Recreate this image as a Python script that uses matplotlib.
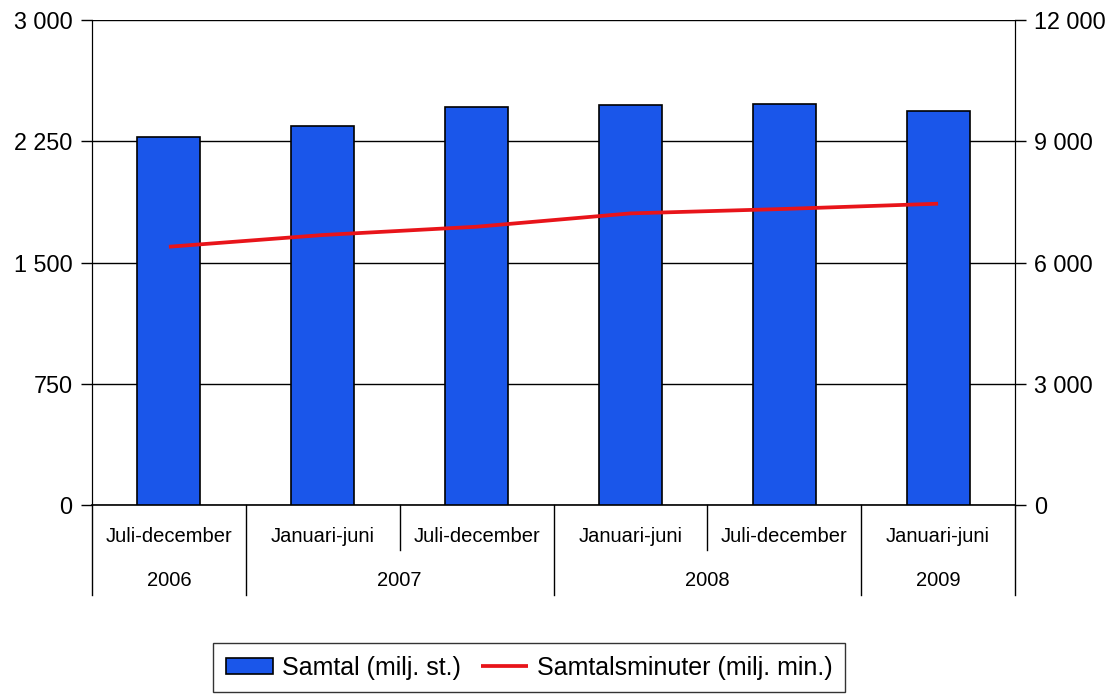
import numpy as np
import matplotlib.pyplot as plt
from matplotlib.transforms import blended_transform_factory
from matplotlib.ticker import FuncFormatter

plt.rcParams['font.family'] = ['Liberation Sans', 'DejaVu Sans']

# halvår och år
perioder = ["Juli-december", "Januari-juni", "Juli-december",
            "Januari-juni", "Juli-december", "Januari-juni"]
ar = ["2006", "2007", "2008", "2009"]
ar_antal = [1, 2, 2, 1]  # antal halvår per år

samtal = [2274, 2346, 2464, 2472, 2482, 2437]          # milj. st.
samtalsminuter = [6390, 6680, 6885, 7215, 7325, 7455]  # milj. min.

fig = plt.figure(figsize=(11.14, 7.0), dpi=100)
ax = fig.add_axes([92 / 1114, 1 - 505 / 700, (1015 - 92) / 1114, 485 / 700])
ax2 = ax.twinx()

x = np.arange(len(perioder))
ax.bar(x, samtal, width=0.41, color='#1A56EA', edgecolor='black',
       linewidth=1.2, zorder=3, label='Samtal (milj. st.)')
ax2.plot(x, samtalsminuter, color='#E8141A', linewidth=2.7,
         solid_capstyle='butt', label='Samtalsminuter (milj. min.)', zorder=4)

ax.set_xlim(-0.5, len(perioder) - 0.5)
ax.set_ylim(0, 3000)
ax2.set_ylim(0, 12000)
ax.set_yticks([0, 750, 1500, 2250, 3000])
ax2.set_yticks([0, 3000, 6000, 9000, 12000])

fmt = FuncFormatter(lambda v, p: f"{int(v):,}".replace(",", " "))
ax.yaxis.set_major_formatter(fmt)
ax2.yaxis.set_major_formatter(fmt)

ax.grid(axis='y', color='black', linewidth=1.0, zorder=0)
ax.set_axisbelow(True)
ax2.set_zorder(ax.get_zorder() + 1)
ax2.patch.set_visible(False)

for a in (ax, ax2):
    a.spines['top'].set_visible(False)
    a.tick_params(axis='y', direction='out', length=8, width=1.0,
                  labelsize=16.8, pad=6)
ax.spines['bottom'].set_linewidth(1.2)
ax2.spines['bottom'].set_visible(False)
ax.tick_params(axis='x', length=0, labelbottom=False)
ax2.tick_params(axis='x', length=0)

# tvånivås kategoriaxel
tr = blended_transform_factory(ax.transData, ax.transAxes)
y_per = -32 / 485
y_ar = -76 / 485
y_kort = -45 / 485
y_lang = -90 / 485

for i, p in enumerate(perioder):
    ax.text(i, y_per, p, transform=tr, ha='center', va='center', fontsize=14.5)

start = 0
grans = [-0.5]
for namn, n in zip(ar, ar_antal):
    mitt = start + (n - 1) / 2
    ax.text(mitt, y_ar, namn, transform=tr, ha='center', va='center', fontsize=14.5)
    for k in range(1, n):
        xs = start + k - 0.5
        ax.plot([xs, xs], [0, y_kort], transform=tr, color='black',
                linewidth=1.0, clip_on=False)
    start += n
    grans.append(start - 0.5)
for xs in grans:
    ax.plot([xs, xs], [0, y_lang], transform=tr, color='black',
            linewidth=1.0, clip_on=False)

h1, l1 = ax.get_legend_handles_labels()
h2, l2 = ax2.get_legend_handles_labels()
leg = fig.legend(h1 + h2, l1 + l2, loc='upper center',
                 bbox_to_anchor=(529 / 1114, 1 - 643 / 700), ncol=2,
                 fontsize=18, frameon=True, fancybox=False, edgecolor='black',
                 handlelength=1.9, handleheight=0.6, handletextpad=0.35,
                 columnspacing=0.8, borderpad=0.5, borderaxespad=0)
leg.get_frame().set_linewidth(1.0)

fig.savefig('out.png', dpi=100)
